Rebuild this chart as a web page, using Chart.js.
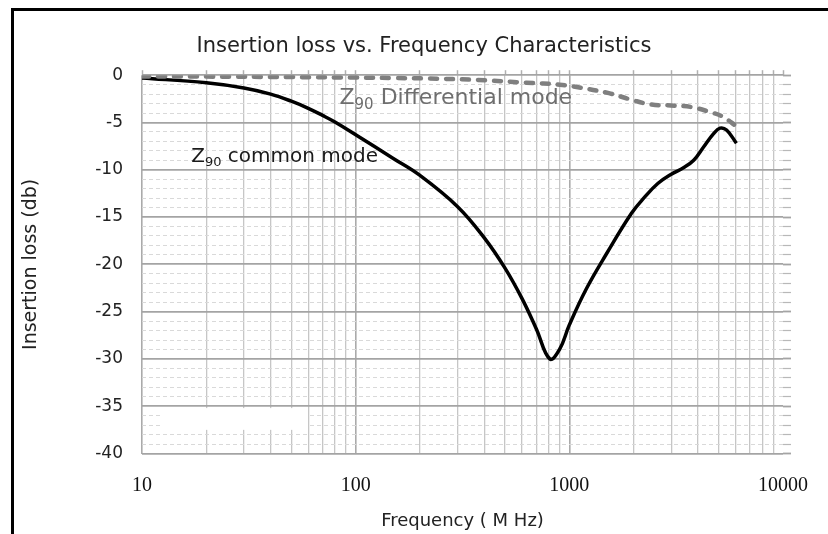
<!DOCTYPE html>
<html><head><meta charset="utf-8">
<script src="https://cdn.jsdelivr.net/npm/chart.js@4/dist/chart.umd.min.js"></script>
<style>html,body{margin:0;padding:0;background:#fff}#wrap{width:828px;height:534px}</style>
</head><body><div id="wrap"><canvas id="c" width="828" height="534"></canvas></div>
<script>
// ---- data ----
const chartTitle = 'Insertion loss vs. Frequency Characteristics';
const xAxisTitle = 'Frequency ( M Hz)';
const yAxisTitle = 'Insertion loss (db)';
const commonName = 'Z90 common mode';
const diffName = 'Z90 Differential mode';

const commonFreq = [10, 20, 30, 40, 50, 60, 70, 80, 100, 150, 200, 300, 400, 500, 600, 700, 810, 900, 1000, 1200, 1500, 1954, 2250, 2594, 2986, 3436, 3820, 4249, 4723, 5070, 5443, 6053];
const commonLoss = [-0.3, -0.8, -1.35, -2.0, -2.75, -3.5, -4.25, -4.95, -6.3, -8.8, -10.6, -13.9, -17.2, -20.4, -23.6, -26.8, -30.0, -29.0, -26.4, -22.6, -18.8, -14.6, -12.9, -11.45, -10.5, -9.76, -9.0, -7.6, -6.2, -5.6, -5.8, -7.2];

const diffFreq = [10, 20, 50, 100, 154, 218, 371, 630, 902, 1115, 1532, 1954, 2416, 2986, 3690, 4560, 5234, 6053];
const diffLoss = [-0.15, -0.15, -0.2, -0.25, -0.3, -0.35, -0.5, -0.8, -1.0, -1.3, -1.9, -2.6, -3.1, -3.2, -3.35, -3.9, -4.4, -5.4];

const xTickValues = [10,20,30,40,50,60,70,80,90,100,200,300,400,500,600,700,800,900,1000,2000,3000,4000,5000,6000,7000,8000,9000,10000];
const xLabelValues = [10, 100, 1000, 10000];
const yMinorTicks = [-40,-39,-38,-37,-36,-35,-34,-33,-32,-31,-30,-29,-28,-27,-26,-25,-24,-23,-22,-21,-20,-19,-18,-17,-16,-15,-14,-13,-12,-11,-10,-9,-8,-7,-6,-5,-4,-3,-2,-1,0];
const yLabelValues = [0, -5, -10, -15, -20, -25, -30, -35, -40];

// annotation anchors (data coordinates)
const diffLabelAt = {x: 84, y: -2.45};
const commonLabelAt = {x: 17, y: -8.6};
// blank patch (erased legend) in data coords
const blankPatch = {x1: 12.4, x2: 59.6, y1: -35.2, y2: -37.5};

const FONT = '"DejaVu Sans", sans-serif';

const toXY = (fs, ls) => fs.map((f, i) => ({x: f, y: ls[i]}));

const framePlugin = {
  id: 'frame',
  afterDraw(chart) {
    const c = chart.ctx;
    c.save();
    c.strokeStyle = '#000';
    c.lineWidth = 3;
    c.beginPath();
    c.moveTo(12.5, 534); c.lineTo(12.5, 9.5); c.lineTo(828, 9.5);
    c.stroke();
    c.restore();
  }
};

const patchPlugin = {
  id: 'patch',
  beforeDatasetsDraw(chart) {
    const x = chart.scales.x, y = chart.scales.y, c = chart.ctx;
    const px1 = x.getPixelForValue(blankPatch.x1), px2 = x.getPixelForValue(blankPatch.x2);
    const py1 = y.getPixelForValue(blankPatch.y1), py2 = y.getPixelForValue(blankPatch.y2);
    c.save();
    c.fillStyle = '#fff';
    c.fillRect(px1, py1, px2 - px1, py2 - py1);
    c.restore();
  }
};

function drawSubLabel(c, x, y, pre, sub, post, size, color) {
  c.save();
  c.fillStyle = color;
  c.textBaseline = 'middle';
  c.textAlign = 'left';
  c.font = size + 'px ' + FONT;
  c.fillText(pre, x, y);
  let w = c.measureText(pre).width;
  c.font = Math.round(size * 0.66) + 'px ' + FONT;
  c.fillText(sub, x + w, y + size * 0.3);
  w += c.measureText(sub).width;
  c.font = size + 'px ' + FONT;
  c.fillText(post, x + w, y);
  c.restore();
}

const labelPlugin = {
  id: 'labels',
  afterDatasetsDraw(chart) {
    const x = chart.scales.x, y = chart.scales.y, c = chart.ctx;
    drawSubLabel(c, x.getPixelForValue(diffLabelAt.x), y.getPixelForValue(diffLabelAt.y), 'Z', '90', ' Differential mode', 22, '#6e6e6e');
    drawSubLabel(c, x.getPixelForValue(commonLabelAt.x), y.getPixelForValue(commonLabelAt.y), 'Z', '90', ' common mode', 20, '#1a1a1a');
  }
};

new Chart(document.getElementById('c'), {
  type: 'line',
  data: {
    datasets: [
      {label: diffName, data: toXY(diffFreq, diffLoss), borderColor: '#7f7f7f', borderWidth: 4.5, borderDash: [7, 9], borderCapStyle: 'round', pointRadius: 0, tension: 0.4, fill: false},
      {label: commonName, data: toXY(commonFreq, commonLoss), borderColor: '#000', borderWidth: 3.5, pointRadius: 0, tension: 0.4, fill: false}
    ]
  },
  options: {
    responsive: false,
    animation: false,
    devicePixelRatio: 1,
    layout: {padding: {left: 20, right: 0, top: 0, bottom: 0}},
    plugins: {
      legend: {display: false},
      tooltip: {enabled: false},
      title: {display: true, text: chartTitle, color: '#222', font: {family: FONT, size: 21, weight: 'normal'}, padding: {top: 34, bottom: 0}}
    },
    scales: {
      x: {
        type: 'logarithmic', position: 'bottom', min: 10, max: 10000,
        afterBuildTicks: s => { s.ticks = xTickValues.map(v => ({value: v})); },
        afterFit: s => { s.height = 80.5; },
        ticks: {autoSkip: false, maxRotation: 0, padding: 20, color: '#111', font: {family: '"Liberation Serif", serif', size: 20},
          callback: v => xLabelValues.includes(v) ? String(v) : ''},
        grid: {drawTicks: false, color: ctx => ctx.tick && ctx.tick.value === 10000 ? 'rgba(0,0,0,0)' : (xLabelValues.includes(ctx.tick && ctx.tick.value) ? '#aaaaaa' : '#c6c6c6'),
          lineWidth: ctx => xLabelValues.includes(ctx.tick && ctx.tick.value) ? 1.6 : 1.3},
        border: {display: false},
        title: {display: true, text: xAxisTitle, color: '#222', font: {family: FONT, size: 18}, padding: {top: 0, bottom: 2}}
      },
      x2: {
        type: 'logarithmic', position: 'top', min: 10, max: 10000,
        afterBuildTicks: s => { s.ticks = xTickValues.map(v => ({value: v})); },
        afterFit: s => { s.height = 16; },
        ticks: {display: false, autoSkip: false},
        grid: {drawOnChartArea: false, drawTicks: true, tickLength: 5, tickColor: '#b0b0b0', tickWidth: 1.5},
        border: {display: false}
      },
      y: {
        type: 'linear', position: 'left', min: -40, max: 0,
        afterBuildTicks: s => { s.ticks = yLabelValues.map(v => ({value: v})); },
        afterFit: s => { s.width = 122; },
        ticks: {padding: 19, color: '#222', font: {family: FONT, size: 17}},
        grid: {drawTicks: false, color: '#a4a4a4', lineWidth: 1.8},
        border: {display: false},
        title: {display: true, text: yAxisTitle, color: '#222', font: {family: FONT, size: 19}, padding: {top: 0, bottom: 0}}
      },
      y2: {
        type: 'linear', position: 'right', min: -40, max: 0,
        afterBuildTicks: s => { s.ticks = yMinorTicks.map(v => ({value: v})); },
        afterFit: s => { s.width = 34; },
        ticks: {display: false},
        grid: {drawTicks: true, tickLength: 8, tickColor: ctx => (ctx.tick && ctx.tick.value % 5 === 0) ? '#a4a4a4' : '#b8b8b8',
          tickWidth: ctx => (ctx.tick && ctx.tick.value % 5 === 0) ? 1.8 : 1.2,
          color: ctx => (ctx.tick && ctx.tick.value % 5 === 0) ? 'rgba(0,0,0,0)' : '#d9d9d9', lineWidth: 1},
        border: {display: false, dash: [4, 3]}
      }
    }
  },
  plugins: [framePlugin, patchPlugin, labelPlugin]
});
</script>
</body></html>
